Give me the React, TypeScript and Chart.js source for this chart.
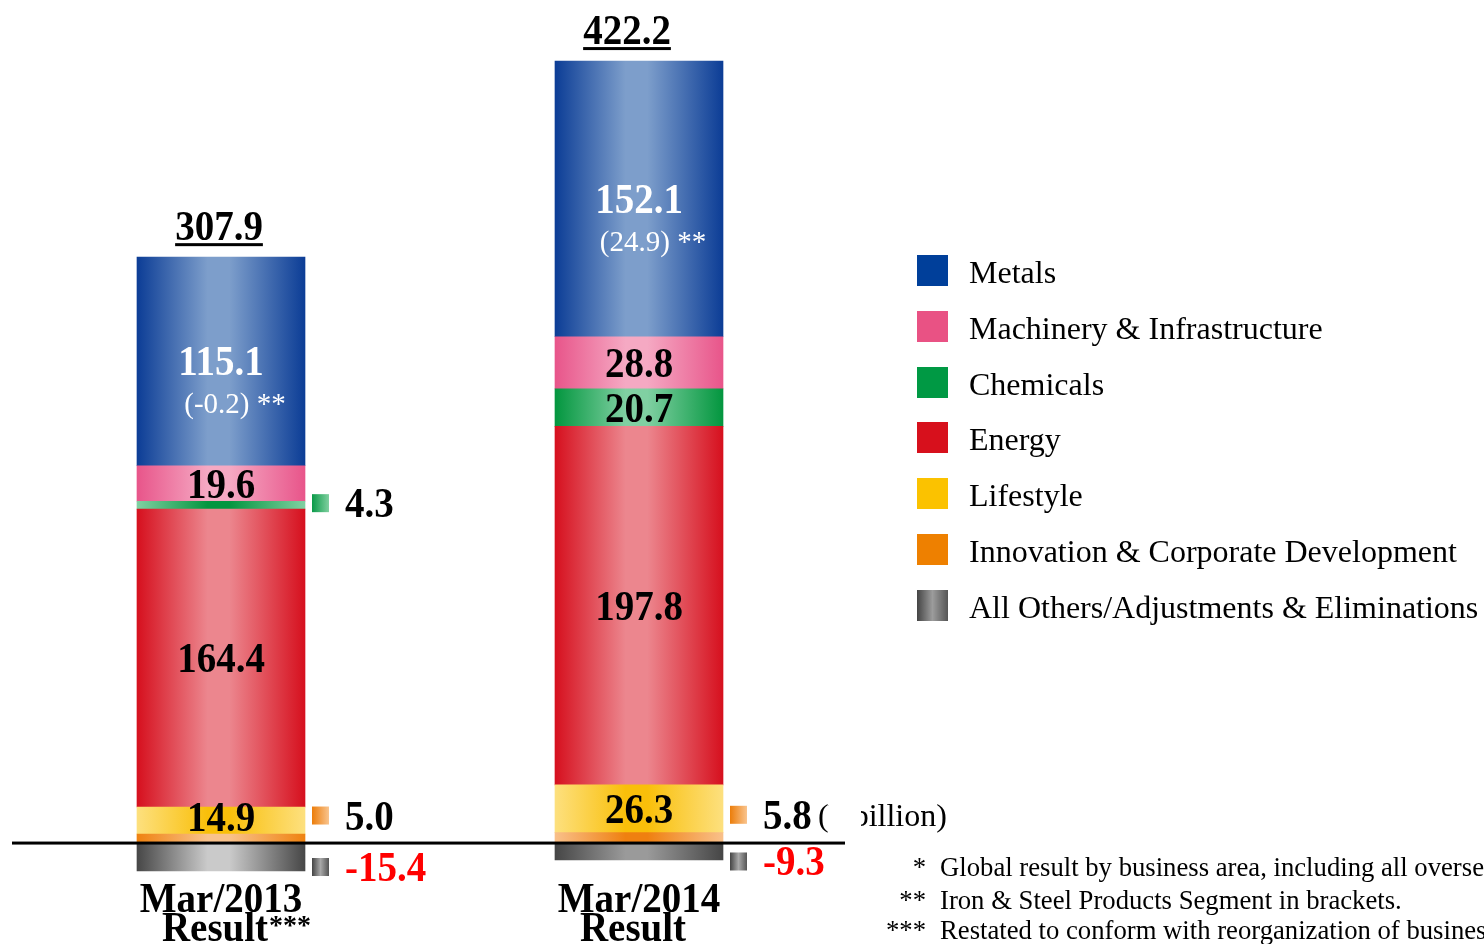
import React, { useEffect, useRef } from "react";
import { Chart, registerables } from "chart.js";

Chart.register(...registerables);

// ---------- data ----------
const categories = ["Mar/2013", "Mar/2014"];
const categorySub = ["Result", "Result"];
const categoryMarks = ["***", ""];
const metals = [115.1, 152.1];
const ironSteel = ["(-0.2)", "(24.9)"];
const machinery = [19.6, 28.8];
const chemicals = [4.3, 20.7];
const energy = [164.4, 197.8];
const lifestyle = [14.9, 26.3];
const innovation = [5.0, 5.8];
const others = [-15.4, -9.3];
const totals = [307.9, 422.2];
const unitLabel = "(¥ billion)";
const footnoteMarks = ["*", "**", "***"];
const footnotes = [
  "Global result by business area, including all overseas subsidiaries.",
  "Iron & Steel Products Segment in brackets.",
  "Restated to conform with reorganization of business areas.",
];

// ---------- styles ----------
type Style = {
  label: string;
  data: number[];
  grad: [string, string][]; // per bar: [edge, centre]
  legend: string;
  text: string;
  side: number;
  sideGrad: string[];
};

const series: Style[] = [
  {
    label: "Innovation & Corporate Development",
    data: innovation,
    grad: [["#ef8210", "#f9c28c"], ["#f9c08a", "#ef8010"]],
    legend: "#ee8000",
    text: "#000",
    side: -22,
    sideGrad: ["#ec7d0a", "#f9c48e"],
  },
  {
    label: "Lifestyle",
    data: lifestyle,
    grad: [["#fde07e", "#f9bf0a"], ["#fde07e", "#f9bf0a"]],
    legend: "#fbc200",
    text: "#000",
    side: 0,
    sideGrad: ["#f9bf0a", "#fde07e"],
  },
  {
    label: "Energy",
    data: energy,
    grad: [["#d6101e", "#ec868e"], ["#d6101e", "#ec868e"]],
    legend: "#d7101c",
    text: "#000",
    side: 0,
    sideGrad: ["#d6101e", "#ec868e"],
  },
  {
    label: "Chemicals",
    data: chemicals,
    grad: [["#80d0a2", "#03963f"], ["#03963f", "#80d0a2"]],
    legend: "#009944",
    text: "#000",
    side: -1,
    sideGrad: ["#0a9a48", "#80d0a0"],
  },
  {
    label: "Machinery & Infrastructure",
    data: machinery,
    grad: [["#e8558a", "#f5a9c3"], ["#e8558a", "#f5a9c3"]],
    legend: "#e95284",
    text: "#000",
    side: 0,
    sideGrad: ["#e8558a", "#f5a9c3"],
  },
  {
    label: "Metals",
    data: metals,
    grad: [["#0c3d96", "#7d9ecb"], ["#0c3d96", "#7d9ecb"]],
    legend: "#003f9a",
    text: "#fff",
    side: 0,
    sideGrad: ["#0c3d96", "#7d9ecb"],
  },
  {
    label: "All Others/Adjustments & Eliminations",
    data: others,
    grad: [["#474747", "#cacaca"], ["#464646", "#9a9a9a"]],
    legend: "linear-gradient(to right, #444 0%, #9c9c9c 50%, #555 100%)",
    text: "#ff0000",
    side: 11,
    sideGrad: ["#444", "#a8a8a8", "#555"],
  },
];

const legendOrder = [5, 4, 3, 2, 1, 0, 6];
const totalsDx = [-2, -12];

const SERIF = "'Liberation Serif', 'Times New Roman', serif";
const BAR_W = 168;

function drawText(
  c: CanvasRenderingContext2D,
  s: string,
  x: number,
  y: number,
  font: string,
  color: string,
  align: CanvasTextAlign,
  sy = 1.1
) {
  c.save();
  c.font = font;
  c.fillStyle = color;
  c.textAlign = align;
  c.textBaseline = "alphabetic";
  c.translate(x, y);
  c.scale(1, sy);
  c.fillText(s, 0, 0);
  c.restore();
}

const labelPlugin = {
  id: "labels",
  afterDatasetsDraw(chart: any) {
    const c: CanvasRenderingContext2D = chart.ctx;
    const bold = `bold 39px ${SERIF}`;
    const yScale = chart.scales.y;
    const xScale = chart.scales.x;
    const area = chart.chartArea;

    // zero line
    const y0 = yScale.getPixelForValue(0);
    c.save();
    c.fillStyle = "#000";
    c.fillRect(area.left, y0 - 1.5, area.right - area.left - 3, 3);
    c.restore();

    const tops: number[] = categories.map(() => Infinity);

    chart.data.datasets.forEach((ds: any, di: number) => {
      const meta = chart.getDatasetMeta(di);
      const st = series[di];
      meta.data.forEach((bar: any, i: number) => {
        const v = ds.data[i] as number;
        const p = bar.getProps(["x", "y", "base", "width"], true);
        const top = Math.min(p.y, p.base);
        if (v > 0) tops[i] = Math.min(tops[i], top);
        const mid = (p.y + p.base) / 2;
        if (v >= 10) {
          const h = Math.abs(p.base - p.y);
          const cy = h < 30 ? mid - 3 : mid;
          drawText(c, v.toFixed(1), p.x, cy + 14, bold, st.text, "center");
          if (st.label === "Metals") {
            c.save();
            c.font = `29px ${SERIF}`;
            c.fillStyle = "#fff";
            c.textAlign = "center";
            c.fillText(ironSteel[i] + " **", p.x + 14, mid + 52);
            c.restore();
          }
        } else {
          const right = p.x + p.width / 2;
          const cy = mid + st.side;
          const sx = right + 7;
          const g = c.createLinearGradient(sx, 0, sx + 17, 0);
          st.sideGrad.forEach((col, k) =>
            g.addColorStop(k / (st.sideGrad.length - 1), col)
          );
          c.save();
          c.fillStyle = g;
          c.fillRect(sx, cy - 10, 17, 18);
          c.restore();
          drawText(
            c,
            v.toFixed(1),
            right + 40,
            cy + 13,
            bold,
            v < 0 ? "#ff0000" : "#000",
            "left"
          );
        }
      });
    });

    // totals
    totals.forEach((t, i) => {
      const x = xScale.getPixelForValue(i) + totalsDx[i];
      const base = tops[i] - 17;
      const s = t.toFixed(1);
      drawText(c, s, x, base, bold, "#000", "center");
      c.save();
      c.font = bold;
      const w = c.measureText(s).width;
      c.fillStyle = "#000";
      c.fillRect(x - w / 2, base + 3, w, 3);
      c.restore();
    });

    // category labels
    categories.forEach((cat, i) => {
      const x = xScale.getPixelForValue(i);
      drawText(c, cat, x, 912, bold, "#000", "center");
      drawText(c, categorySub[i], x - 6, 941, bold, "#000", "center");
      if (categoryMarks[i]) {
        c.save();
        c.font = bold;
        const w = c.measureText(categorySub[i]).width;
        c.restore();
        drawText(
          c,
          categoryMarks[i],
          x - 6 + w / 2 + 1,
          934,
          `bold 28px ${SERIF}`,
          "#000",
          "left",
          1
        );
      }
    });
  },
};

export default function App() {
  const ref = useRef<HTMLCanvasElement | null>(null);

  useEffect(() => {
    if (!ref.current) return;
    const chart = new Chart(ref.current, {
      type: "bar",
      data: {
        labels: categories,
        datasets: series.map((s) => ({
          label: s.label,
          data: s.data,
          stack: "a",
          barThickness: BAR_W,
          borderWidth: 0,
          backgroundColor: (ctx: any) => {
            const chart = ctx.chart;
            const xs = chart.scales?.x;
            const i = ctx.dataIndex;
            const fallback = s.grad[0][0];
            if (!xs || i == null || !s.grad[i]) return fallback;
            const cx = xs.getPixelForValue(i);
            if (!Number.isFinite(cx)) return fallback;
            const [edge, centre] = s.grad[i];
            const g = chart.ctx.createLinearGradient(cx - BAR_W / 2, 0, cx + BAR_W / 2, 0);
            g.addColorStop(0, edge);
            g.addColorStop(0.42, centre);
            g.addColorStop(0.55, centre);
            g.addColorStop(1, edge);
            return g;
          },
        })),
      },
      options: {
        responsive: false,
        animation: false,
        layout: { padding: { left: 12, right: 636, top: 0, bottom: 0 } },
        plugins: {
          legend: { display: false },
          tooltip: { enabled: false },
        },
        scales: {
          x: { display: false, stacked: true, offset: true },
          y: { display: false, stacked: true, min: -55.7, max: 465.2 },
        },
      },
      plugins: [labelPlugin],
    });
    return () => chart.destroy();
  }, []);

  return (
    <div
      style={{
        position: "absolute",
        left: 0,
        top: 0,
        width: 1484,
        height: 944,
        overflow: "hidden",
        background: "#fff",
        fontFamily: SERIF,
      }}
    >
      <canvas
        ref={ref}
        width={1484}
        height={944}
        style={{ position: "absolute", left: 0, top: 0, width: 1484, height: 944 }}
      />
      {legendOrder.map((si, k) => {
        const s = series[si];
        const top = 255 + k * 55.8;
        return (
          <React.Fragment key={s.label}>
            <div
              style={{
                position: "absolute",
                left: 917,
                top,
                width: 31,
                height: 31,
                background: s.legend,
              }}
            />
            <div
              style={{
                position: "absolute",
                left: 969,
                top: top + 1,
                fontSize: 32,
                lineHeight: "32px",
                whiteSpace: "nowrap",
                color: "#000",
              }}
            >
              {s.label}
            </div>
          </React.Fragment>
        );
      })}
      <div
        style={{
          position: "absolute",
          left: 818,
          top: 799,
          fontSize: 32,
          lineHeight: "32px",
          whiteSpace: "nowrap",
          color: "#000",
        }}
      >
        {unitLabel}
      </div>
      <div
        style={{
          position: "absolute",
          left: 829,
          top: 795,
          width: 32,
          height: 40,
          background: "#fff",
        }}
      />
      {footnotes.map((f, k) => {
        const top = [854, 887, 917][k];
        return (
          <React.Fragment key={k}>
            <div
              style={{
                position: "absolute",
                left: 860,
                width: 66,
                top,
                textAlign: "right",
                fontSize: 26.7,
                lineHeight: "27px",
                whiteSpace: "nowrap",
              }}
            >
              {footnoteMarks[k]}
            </div>
            <div
              style={{
                position: "absolute",
                left: 940,
                top,
                fontSize: 26.7,
                lineHeight: "27px",
                whiteSpace: "nowrap",
              }}
            >
              {f}
            </div>
          </React.Fragment>
        );
      })}
    </div>
  );
}
